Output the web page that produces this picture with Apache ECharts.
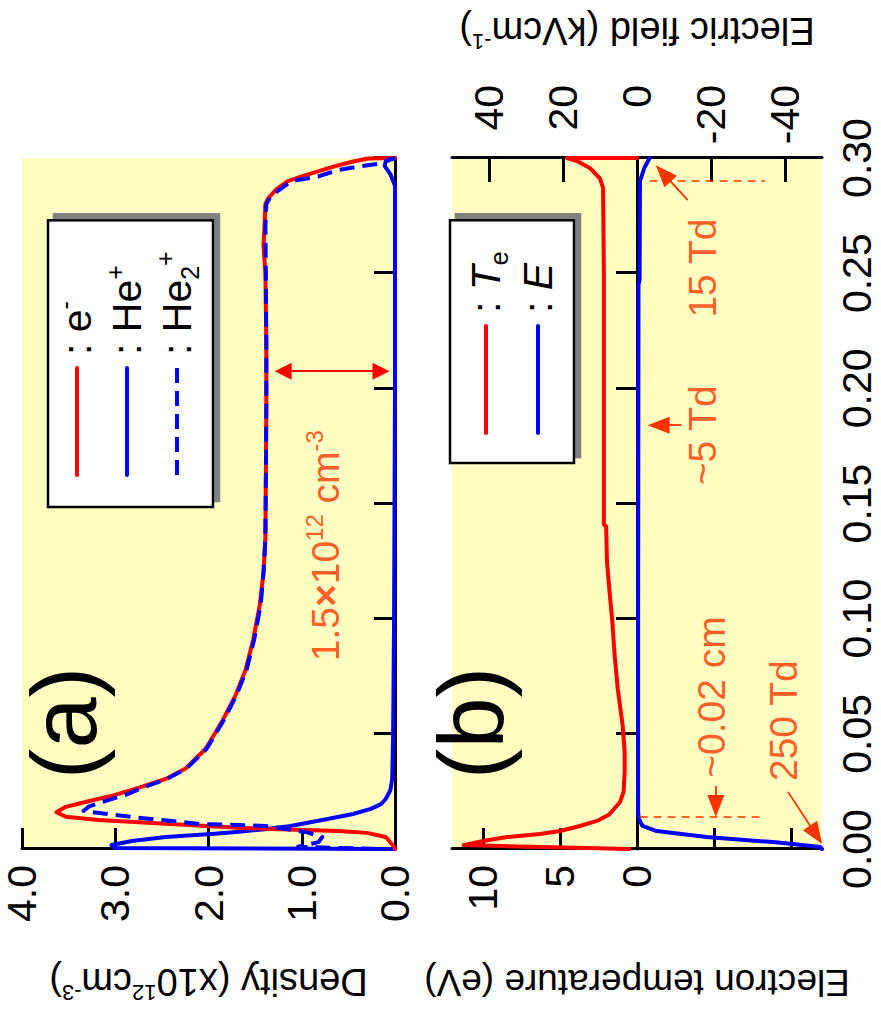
<!DOCTYPE html>
<html>
<head>
<meta charset="utf-8">
<script src="https://cdn.jsdelivr.net/npm/echarts@6/dist/echarts.min.js"></script>
<style>
  html, body { margin: 0; padding: 0; background: #fff; overflow: hidden; }
  #frame { position: absolute; left: 0; top: 0; width: 881px; height: 1011px; overflow: hidden; }
  /* the figure is laid out landscape and turned a quarter turn counter-clockwise */
  #chart { position: absolute; left: 0; top: 0; width: 1011px; height: 881px;
           transform-origin: 0 0; transform: translateY(1011px) rotate(-90deg); }
</style>
</head>
<body>
<div id="frame"><div id="chart"></div></div>
<script>
// ---- data: position across the gap (cm) ----
const electronDensity = [
  [0.0000, 0.00], [0.0010, 0.01], [0.0052, 0.10], [0.0070, 0.30], [0.0078, 0.61],
  [0.0082, 0.96], [0.0087, 1.33], [0.0092, 1.68], [0.0100, 2.02], [0.0110, 2.46],
  [0.0126, 3.18], [0.0140, 3.53], [0.0160, 3.63], [0.0183, 3.53], [0.0204, 3.32],
  [0.0235, 3.00], [0.0270, 2.72], [0.0304, 2.46], [0.0348, 2.25], [0.0435, 2.03],
  [0.0550, 1.86], [0.0667, 1.71], [0.0780, 1.60], [0.0910, 1.52], [0.1060, 1.45],
  [0.1200, 1.41], [0.1350, 1.39], [0.1600, 1.385], [0.1930, 1.38], [0.2200, 1.38],
  [0.2500, 1.39], [0.2620, 1.41], [0.2700, 1.40], [0.2800, 1.39], [0.2826, 1.36],
  [0.2865, 1.27], [0.2900, 1.15], [0.2920, 1.00], [0.2945, 0.80], [0.2965, 0.64],
  [0.2985, 0.45], [0.2998, 0.29], [0.3000, 0.00]
];
const heliumIonDensity = [
  [0.0000, 0.00], [0.0004, 3.00], [0.0017, 3.04], [0.0035, 2.82], [0.0052, 2.46],
  [0.0065, 1.97], [0.0074, 1.70], [0.0085, 1.42], [0.0100, 1.12], [0.0126, 0.78],
  [0.0152, 0.45], [0.0174, 0.26], [0.0195, 0.15], [0.0217, 0.10], [0.0255, 0.05],
  [0.0304, 0.03], [0.0500, 0.02], [0.1000, 0.01], [0.2000, 0.00], [0.2880, 0.00],
  [0.2930, 0.05], [0.2965, 0.11], [0.2985, 0.10], [0.3000, 0.00]
];
const heliumDimerDensity = [
  [0.0000, 0.20], [0.0010, 1.04], [0.0030, 0.82], [0.0052, 0.78], [0.0074, 0.96],
  [0.0100, 1.39], [0.0109, 2.10], [0.0139, 2.82], [0.0165, 3.34], [0.0185, 3.28],
  [0.0204, 3.14], [0.0235, 2.89], [0.0270, 2.68], [0.0304, 2.45], [0.0348, 2.24],
  [0.0435, 2.02], [0.0550, 1.85], [0.0667, 1.70], [0.0780, 1.59], [0.0910, 1.51],
  [0.1060, 1.44], [0.1200, 1.41], [0.1350, 1.39], [0.1600, 1.385], [0.1930, 1.38],
  [0.2200, 1.38], [0.2500, 1.385], [0.2700, 1.39], [0.2800, 1.38], [0.2835, 1.33],
  [0.2900, 1.11], [0.2920, 0.82], [0.2948, 0.61], [0.2965, 0.36], [0.2975, 0.18],
  [0.2995, 0.05], [0.3000, 0.00]
];
const electronTemperature = [
  [0.0000, 0.50], [0.0017, 11.25], [0.0035, 10.00], [0.0052, 8.40], [0.0065, 6.30],
  [0.0078, 5.00], [0.0100, 3.70], [0.0122, 2.60], [0.0150, 1.80], [0.0204, 1.10],
  [0.0248, 0.87], [0.0335, 0.80], [0.0420, 0.80], [0.0535, 0.93], [0.0696, 1.25],
  [0.0840, 1.45], [0.0987, 1.60], [0.1130, 1.80], [0.1250, 1.95], [0.1400, 2.00],
  [0.1410, 2.15], [0.2500, 2.15], [0.2870, 2.20], [0.2910, 2.40], [0.2957, 3.06],
  [0.2987, 3.90], [0.3000, 4.55], [0.3000, 0.00]
];
const electricField = [
  [0.0000, -50.0], [0.0009, -49.5], [0.0022, -42.0], [0.0030, -36.7], [0.0052, -18.8],
  [0.0078, -5.3], [0.0100, -1.5], [0.0130, -0.5], [0.0160, -0.3], [0.1000, -0.3],
  [0.2450, -0.4], [0.2470, -0.7], [0.2900, -0.8], [0.2957, -2.0], [0.3000, -3.4]
];

// ---- axis ticks ----
const densityTicks = [0, 1, 2, 3, 4];
const temperatureTicks = [-10, -5, 0, 5, 10];
const temperatureLabels = [0, 5, 10];
const fieldTicks = [-40, -20, 0, 20, 40];

// ---- annotations (data coordinates) ----
const densityNotes = [[0.1317, 0.75, '1.5{b|×}10{sup|12} cm{sup|-3}']];
const densityArrows = [[[0.2074, 0.15], [0.2074, 1.20]]];
const fieldNotes = [
  [0.2522, -17.8, '15 Td'],
  [0.1796, -17.8, '~5 Td'],
  [0.0660, -20.0, '~0.02 cm'],
  [0.0557, -39.5, '250 Td']
];
const fieldArrows = [
  [[0.2817, -13.7], [0.2933, -7.1]],
  [[0.1840, -12.0], [0.1840, -5.85]],
  [[0.0274, -21.3], [0.0187, -21.3]],
  [[0.0248, -40.8], [0.0062, -48.4]]
];
const fieldGuides = [
  [[0.2900, -3.4], [0.2900, -34.6]],
  [[0.0139, -0.7], [0.0139, -34.0]]
];

const FONT = '"Liberation Sans", Arial, Helvetica, sans-serif';
const RED = '#ff0000';
const BLUE = '#0000ff';
const NOTE = '#ff3300';
const PANEL = '#ffffc2';

const supStyle = { fontSize: 22, fontFamily: FONT, verticalAlign: 'top', lineHeight: 32 };

function axisLineCommon() {
  return {
    axisLine: { show: true, lineStyle: { color: '#000', width: 3 } },
    axisTick: { show: true, inside: true, length: 21, lineStyle: { color: '#000', width: 3 } },
    splitLine: { show: false }
  };
}

const legendText = {
  'e-': ': e{sup|-}',
  'He+': ': He{sup|+}',
  'He2+': ': He{sub|2}{sup|+}',
  'Te': ': {it|T}{sub|e}',
  'E': ': {it|E}'
};
const legendTextStyle = {
  fontSize: 41, fontFamily: FONT, color: '#000', lineHeight: 50, padding: [0, 0, 0, 8],
  rich: {
    sup: { fontSize: 25, fontFamily: FONT, verticalAlign: 'top', lineHeight: 34 },
    sub: { fontSize: 25, fontFamily: FONT, verticalAlign: 'bottom', lineHeight: 26 },
    it: { fontSize: 41, fontFamily: FONT, fontStyle: 'italic', lineHeight: 50 }
  }
};
const legendBox = {
  orient: 'vertical', itemWidth: 107, itemHeight: 14, selectedMode: false,
  backgroundColor: '#fff', borderColor: '#000', borderWidth: 2.5,
  shadowColor: '#808080', shadowBlur: 0, shadowOffsetX: 6, shadowOffsetY: 6,
  itemStyle: { color: 'rgba(0,0,0,0)', borderColor: 'rgba(0,0,0,0)', borderWidth: 0, opacity: 0 },
  lineStyle: { width: 4 },
  formatter: name => legendText[name], textStyle: legendTextStyle
};

const noteLabel = {
  show: true, position: 'inside', color: NOTE, fontSize: 39, fontFamily: FONT, lineHeight: 46,
  formatter: p => p.value[2],
  rich: {
    sup: { fontSize: 24, fontFamily: FONT, color: NOTE, verticalAlign: 'top', lineHeight: 30 },
    b: { fontSize: 39, fontFamily: FONT, color: NOTE, fontWeight: 'bold', lineHeight: 46 }
  }
};

function arrowPairs(list, double) {
  return list.map(([a, b]) => [
    { coord: a, symbol: double ? 'triangle' : 'none' },
    { coord: b, symbol: 'triangle' }
  ]);
}
function guidePairs(list) {
  return list.map(([a, b]) => [
    { coord: a, symbol: 'none', lineStyle: { type: [8, 6], width: 1.5, color: NOTE } },
    { coord: b, symbol: 'none', lineStyle: { type: [8, 6], width: 1.5, color: NOTE } }
  ]);
}

const chart = echarts.init(document.getElementById('chart'), null, {
  renderer: 'svg', width: 1011, height: 881
});

chart.setOption({
  animation: false,
  backgroundColor: '#fff',
  textStyle: { fontFamily: FONT },
  grid: [
    { left: 161, top: 22, width: 692, height: 373, show: true, backgroundColor: PANEL, borderWidth: 0 },
    { left: 161, top: 452, width: 692, height: 370, show: true, backgroundColor: PANEL, borderWidth: 0 }
  ],
  xAxis: [
    Object.assign({
      type: 'value', gridIndex: 0, min: 0, max: 0.3, interval: 0.05,
      axisLabel: { show: false }
    }, axisLineCommon()),
    Object.assign({
      type: 'value', gridIndex: 1, min: 0, max: 0.3, interval: 0.05,
      axisLabel: { show: true, margin: 14, fontSize: 41, color: '#000', fontFamily: FONT,
                   formatter: v => v.toFixed(2) }
    }, axisLineCommon())
  ],
  yAxis: [
    Object.assign({
      type: 'value', gridIndex: 0, min: 0, max: 4, interval: 1,
      axisLabel: { show: true, margin: 16, fontSize: 41, color: '#000', fontFamily: FONT,
                   customValues: densityTicks, formatter: v => v.toFixed(1) },
      name: 'Density (x10{sup|12}cm{sup|-3})', nameLocation: 'middle', nameRotate: 90, nameGap: 112,
      nameTextStyle: { fontSize: 38, color: '#000', fontFamily: FONT, lineHeight: 42, rich: { sup: supStyle } }
    }, axisLineCommon()),
    Object.assign({
      type: 'value', gridIndex: 1, min: -12, max: 12,
      axisLabel: { show: true, margin: 16, fontSize: 41, color: '#000', fontFamily: FONT,
                   customValues: temperatureLabels },
      name: 'Electron temperature (eV)', nameLocation: 'middle', nameRotate: 90, nameGap: 112,
      nameTextStyle: { fontSize: 37, color: '#000', fontFamily: FONT, lineHeight: 42 }
    }, axisLineCommon(), {
      axisTick: { show: true, inside: true, length: 21, customValues: temperatureTicks,
                  lineStyle: { color: '#000', width: 3 } }
    }),
    Object.assign({
      type: 'value', gridIndex: 1, position: 'right', min: -50, max: 50,
      axisLabel: { show: true, margin: 73, align: 'right', fontSize: 41, color: '#000', fontFamily: FONT,
                   customValues: fieldTicks },
      name: 'Electric field (kVcm{sup|-1})', nameLocation: 'middle', nameRotate: 90, nameGap: 106,
      nameTextStyle: { fontSize: 38, color: '#000', fontFamily: FONT, lineHeight: 42, rich: { sup: supStyle } }
    }, axisLineCommon(), {
      axisTick: { show: true, inside: true, length: 24, customValues: fieldTicks,
                  lineStyle: { color: '#000', width: 3 } }
    })
  ],
  legend: [
    Object.assign({ data: ['e-', 'He+', 'He2+'], left: 504, top: 48, itemGap: 0,
                    padding: [4, 31, 11, 30] }, legendBox),
    Object.assign({ data: ['Te', 'E'], left: 548, top: 450, itemGap: 2,
                    padding: [11, 31, 11, 28] }, legendBox)
  ],
  graphic: [
    { type: 'text', x: 288, y: 64, silent: true,
      style: { text: '(a)', fontSize: 92, fontFamily: FONT, fill: '#000', align: 'center', verticalAlign: 'middle' } },
    { type: 'text', x: 288, y: 471, silent: true,
      style: { text: '(b)', fontSize: 92, fontFamily: FONT, fill: '#000', align: 'center', verticalAlign: 'middle' } }
  ],
  series: [
    { name: 'e-', type: 'line', xAxisIndex: 0, yAxisIndex: 0, data: electronDensity,
      symbol: 'none', clip: false, z: 4, lineStyle: { color: RED, width: 4, join: 'round', cap: 'round' },
      itemStyle: { color: RED } },
    { name: 'He+', type: 'line', xAxisIndex: 0, yAxisIndex: 0, data: heliumIonDensity,
      symbol: 'none', clip: false, z: 3, lineStyle: { color: BLUE, width: 4, join: 'round', cap: 'round' },
      itemStyle: { color: BLUE } },
    { name: 'He2+', type: 'line', xAxisIndex: 0, yAxisIndex: 0, data: heliumDimerDensity,
      symbol: 'none', clip: false, z: 5, lineStyle: { color: BLUE, width: 4, type: [15, 8], join: 'round' },
      itemStyle: { color: BLUE } },
    { name: 'Te', type: 'line', xAxisIndex: 1, yAxisIndex: 1, data: electronTemperature,
      symbol: 'none', clip: false, z: 4, lineStyle: { color: RED, width: 4, join: 'round', cap: 'round' },
      itemStyle: { color: RED } },
    { name: 'E', type: 'line', xAxisIndex: 1, yAxisIndex: 2, data: electricField,
      symbol: 'none', clip: false, z: 4, lineStyle: { color: BLUE, width: 4, join: 'round', cap: 'round' },
      itemStyle: { color: BLUE } },
    { name: 'density notes', type: 'scatter', xAxisIndex: 0, yAxisIndex: 0, data: densityNotes,
      symbolSize: 1, itemStyle: { color: 'rgba(0,0,0,0)' }, silent: true, z: 6, label: noteLabel,
      markLine: { silent: true, animation: false, symbolSize: [17, 17], label: { show: false },
                  lineStyle: { color: RED, width: 1.8, type: 'solid' },
                  data: arrowPairs(densityArrows, true) } },
    { name: 'field notes', type: 'scatter', xAxisIndex: 1, yAxisIndex: 2, data: fieldNotes,
      symbolSize: 1, itemStyle: { color: 'rgba(0,0,0,0)' }, silent: true, z: 6, label: noteLabel,
      markLine: { silent: true, animation: false, symbolSize: [17, 22], label: { show: false },
                  lineStyle: { color: NOTE, width: 1.8, type: 'solid' },
                  data: arrowPairs(fieldArrows, false).concat(guidePairs(fieldGuides)) } }
  ]
});
</script>
</body>
</html>
